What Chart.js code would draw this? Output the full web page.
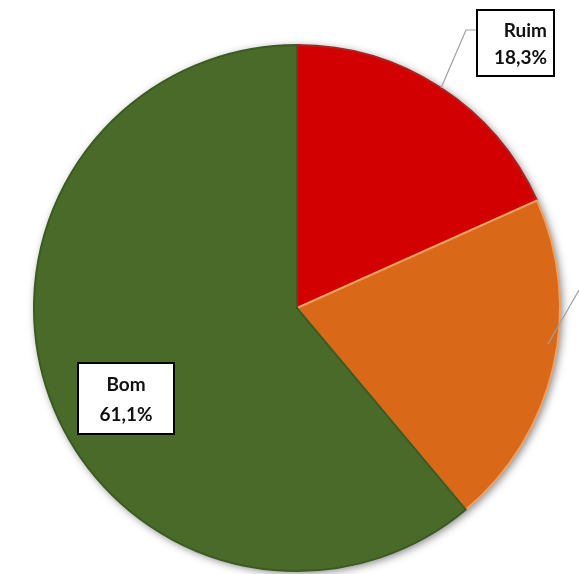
<!DOCTYPE html>
<html>
<head>
<meta charset="utf-8">
<script src="https://cdn.jsdelivr.net/npm/chart.js@4"></script>
<style>
html,body{margin:0;padding:0;background:#fff;}
#wrap{position:relative;width:579px;height:574px;}
</style>
</head>
<body>
<div id="wrap"><canvas id="c" width="579" height="574"></canvas></div>
<script>
const categories = ['Ruim', 'Regular', 'Bom'];
const values = [18.3, 20.6, 61.1];
const valueLabels = ['18,3%', '20,6%', '61,1%'];
const colors = ['#d20000', '#d96818', '#4a6a2a'];
const borderColors = ['#b02020', '#f0a060', '#3c5a22'];

const labelPlugin = {
  id: 'labels',
  beforeDatasetsDraw(chart) {
    const ctx = chart.ctx;
    ctx.save();
    ctx.shadowColor = 'rgba(0,0,0,0.5)';
    ctx.shadowBlur = 8;
    ctx.shadowOffsetX = 2;
    ctx.shadowOffsetY = 2;
    const arc = chart.getDatasetMeta(0).data[0];
    ctx.beginPath();
    ctx.arc(arc.x, arc.y, arc.outerRadius, 0, Math.PI * 2);
    ctx.fillStyle = '#33481c';
    ctx.fill();
    ctx.restore();
  },
  afterDatasetsDraw(chart) {
    const ctx = chart.ctx;
    ctx.save();
    ctx.strokeStyle = '#a0a0a0';
    ctx.lineWidth = 1.2;
    ctx.beginPath();
    ctx.moveTo(477, 30); ctx.lineTo(466, 30); ctx.lineTo(441, 88);
    ctx.stroke();
    ctx.beginPath();
    ctx.moveTo(548, 344); ctx.lineTo(579, 290);
    ctx.stroke();
    function box(x, y, w, h, lines, align, tx) {
      ctx.fillStyle = '#fff';
      ctx.fillRect(x, y, w, h);
      ctx.strokeStyle = '#000';
      ctx.lineWidth = 2;
      ctx.strokeRect(x, y, w, h);
      ctx.fillStyle = '#111';
      ctx.font = 'bold 19px Lato, "Open Sans", sans-serif';
      ctx.textAlign = align;
      ctx.textBaseline = 'middle';
      ctx.fillText(lines[0], tx, y + h * 0.31);
      ctx.fillText(lines[1], tx, y + h * 0.73);
    }
    box(477, 10, 77, 66, [categories[0], valueLabels[0]], 'right', 547);
    box(78, 363, 96, 71, [categories[2], valueLabels[2]], 'center', 126);
    ctx.restore();
  }
};

new Chart(document.getElementById('c'), {
  type: 'pie',
  data: {
    labels: categories,
    datasets: [{
      data: values,
      backgroundColor: colors,
      borderColor: borderColors,
      borderWidth: 2
    }]
  },
  options: {
    responsive: false,
    animation: false,
    layout: { padding: { left: 33, right: 18, top: 44, bottom: 2 } },
    plugins: {
      legend: { display: false },
      tooltip: { enabled: false }
    }
  },
  plugins: [labelPlugin]
});
</script>
</body>
</html>
